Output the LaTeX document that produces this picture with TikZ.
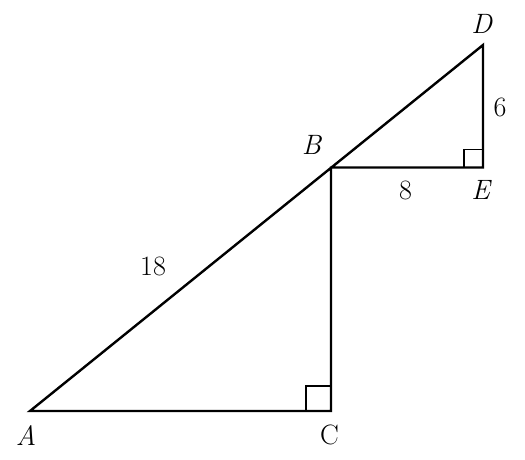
\RequirePackage{fix-cm}
\documentclass[tikz,border=0pt]{standalone}
\usepackage{tikz}
\usetikzlibrary{positioning,calc}
\begin{document}
\begin{tikzpicture}[x=1pt,y=-1pt,line width=2.4pt,
    lbl/.style={inner sep=0pt,font=\fontsize{28}{33}\selectfont}]
    \useasboundingbox (0,0) rectangle (525,459);
    \coordinate (A) at (30,411);
    \coordinate (C) at (331,411);
    \coordinate (B) at (331,167.5);
    \coordinate (E) at (483,167.5);
    \coordinate (D) at (483,45);
    \draw[line join=miter] (D) -- (A) -- (C) -- (B) -- (E) -- cycle;
    \draw[line width=1.6pt] ($(C)+(-25,0)$) -- ++(0,-25) -- ++(25,0);
    \draw[line width=1.6pt] ($(E)+(-19,0)$) -- ++(0,-18) -- ++(19,0);
    \node[lbl] (lA) at (26,435) {\textit{A}};
    \node[lbl] (lC) at (329.5,435) {C};
    \node[lbl] (lB) at (312,145) {\textit{B}};
    \node[lbl] (lE) at (481.5,190) {\textit{E}};
    \node[lbl] (lD) at (482,24) {\textit{D}};
    \node[lbl] (l18) at (153,266) {18};
    \node[lbl] (l8) at (405.5,190) {8};
    \node[lbl] (l6) at (500,107) {6};
\end{tikzpicture}
\end{document}
